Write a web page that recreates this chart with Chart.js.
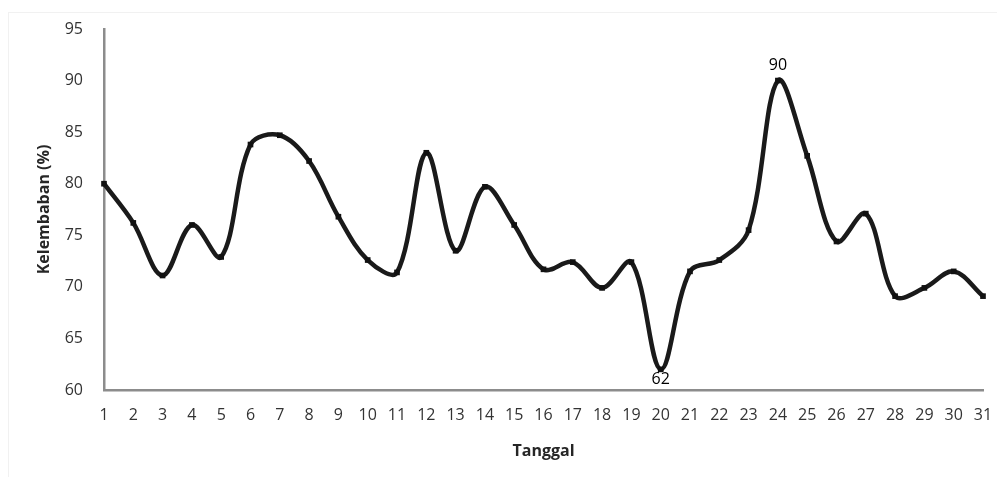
<!DOCTYPE html>
<html>
<head>
<meta charset="utf-8">
<script src="https://cdn.jsdelivr.net/npm/chart.js@4/dist/chart.umd.min.js"></script>
<style>
  html, body { margin: 0; padding: 0; background: #ffffff; }
  #wrap { width: 997px; height: 477px; position: relative; }
</style>
</head>
<body>
<div id="wrap"><canvas id="chart" width="997" height="477"></canvas></div>
<script>
// Daily relative humidity (%) over one month
const tanggal = [1, 2, 3, 4, 5, 6, 7, 8, 9, 10, 11, 12, 13, 14, 15, 16,
                 17, 18, 19, 20, 21, 22, 23, 24, 25, 26, 27, 28, 29, 30, 31];
const kelembaban = [80, 76.2, 71.1, 76.0, 72.9, 83.8, 84.7, 82.2, 76.8, 72.6, 71.4,
                    83.0, 73.5, 79.7, 76.0, 71.7, 72.4, 69.9, 72.4, 62, 71.5, 72.6,
                    75.5, 90, 82.7, 74.4, 77.1, 69.1, 69.9, 71.5, 69.1];
const yTicks = [60, 65, 70, 75, 80, 85, 90, 95];
// Days whose value is written next to the point (label goes below or above)
const labelledDays = { 20: 'below', 24: 'above' };

const fontFamily = '"Open Sans", "Noto Sans", sans-serif';

// Faint outer frame of the chart area
const framePlugin = {
  id: 'frame',
  beforeDraw(chart) {
    const ctx = chart.ctx;
    ctx.save();
    ctx.strokeStyle = '#f1f1f1';
    ctx.lineWidth = 1;
    ctx.strokeRect(8.5, 12.5, 1000, 470);
    ctx.restore();
  }
};

// Writes the value of selected points next to their marker
const valueLabels = {
  id: 'valueLabels',
  afterDatasetsDraw(chart) {
    const ctx = chart.ctx;
    const meta = chart.getDatasetMeta(0);
    ctx.save();
    ctx.font = '16px ' + fontFamily;
    ctx.fillStyle = '#000000';
    ctx.textAlign = 'center';
    ctx.textBaseline = 'middle';
    tanggal.forEach((d, i) => {
      const where = labelledDays[d];
      if (!where) return;
      const pt = meta.data[i];
      const y = where === 'above' ? pt.y - 15 : pt.y + 10;
      ctx.fillText(String(Math.round(kelembaban[i])), pt.x, y);
    });
    ctx.restore();
  }
};

new Chart(document.getElementById('chart'), {
  type: 'line',
  data: {
    labels: tanggal,
    datasets: [{
      data: kelembaban,
      borderColor: '#1a1a1a',
      backgroundColor: '#111111',
      borderWidth: 4.5,
      tension: 0.35,
      pointStyle: 'rect',
      pointRadius: 4,
      pointBackgroundColor: '#111111',
      pointBorderColor: '#111111',
      pointBorderWidth: 0,
      fill: false,
      clip: false
    }]
  },
  options: {
    responsive: false,
    animation: false,
    events: [],
    layout: { padding: { left: 0, right: 14, top: 29, bottom: 0 } },
    plugins: {
      legend: { display: false },
      tooltip: { enabled: false },
      title: { display: false }
    },
    scales: {
      x: {
        type: 'category',
        offset: false,
        grid: { display: false, drawTicks: false },
        border: { display: true, color: '#8c8c8c', width: 2.5 },
        ticks: {
          color: '#333333',
          font: { family: fontFamily, size: 16 },
          padding: 16,
          maxRotation: 0,
          autoSkip: false
        },
        title: {
          display: true,
          text: 'Tanggal',
          color: '#262626',
          font: { family: fontFamily, size: 16, weight: 'bold' },
          padding: { top: 0, bottom: 16 }
        },
        afterFit(scale) {
          scale.height = 87;
          scale.paddingLeft = 0;
          scale.paddingRight = 0;
        }
      },
      y: {
        min: 60,
        max: 95,
        afterBuildTicks(scale) { scale.ticks = yTicks.map(v => ({ value: v })); },
        grid: { display: false, drawTicks: false },
        border: { display: true, color: '#8c8c8c', width: 2.5 },
        ticks: {
          color: '#333333',
          font: { family: fontFamily, size: 16 },
          padding: 21
        },
        title: {
          display: true,
          text: 'Kelembaban (%)',
          color: '#262626',
          font: { family: fontFamily, size: 16, weight: 'bold' },
          padding: { top: 35, bottom: 0 }
        },
        afterFit(scale) {
          scale.width = 104;
          scale.paddingTop = 0;
          scale.paddingBottom = 0;
        }
      }
    }
  },
  plugins: [framePlugin, valueLabels]
});
</script>
</body>
</html>
